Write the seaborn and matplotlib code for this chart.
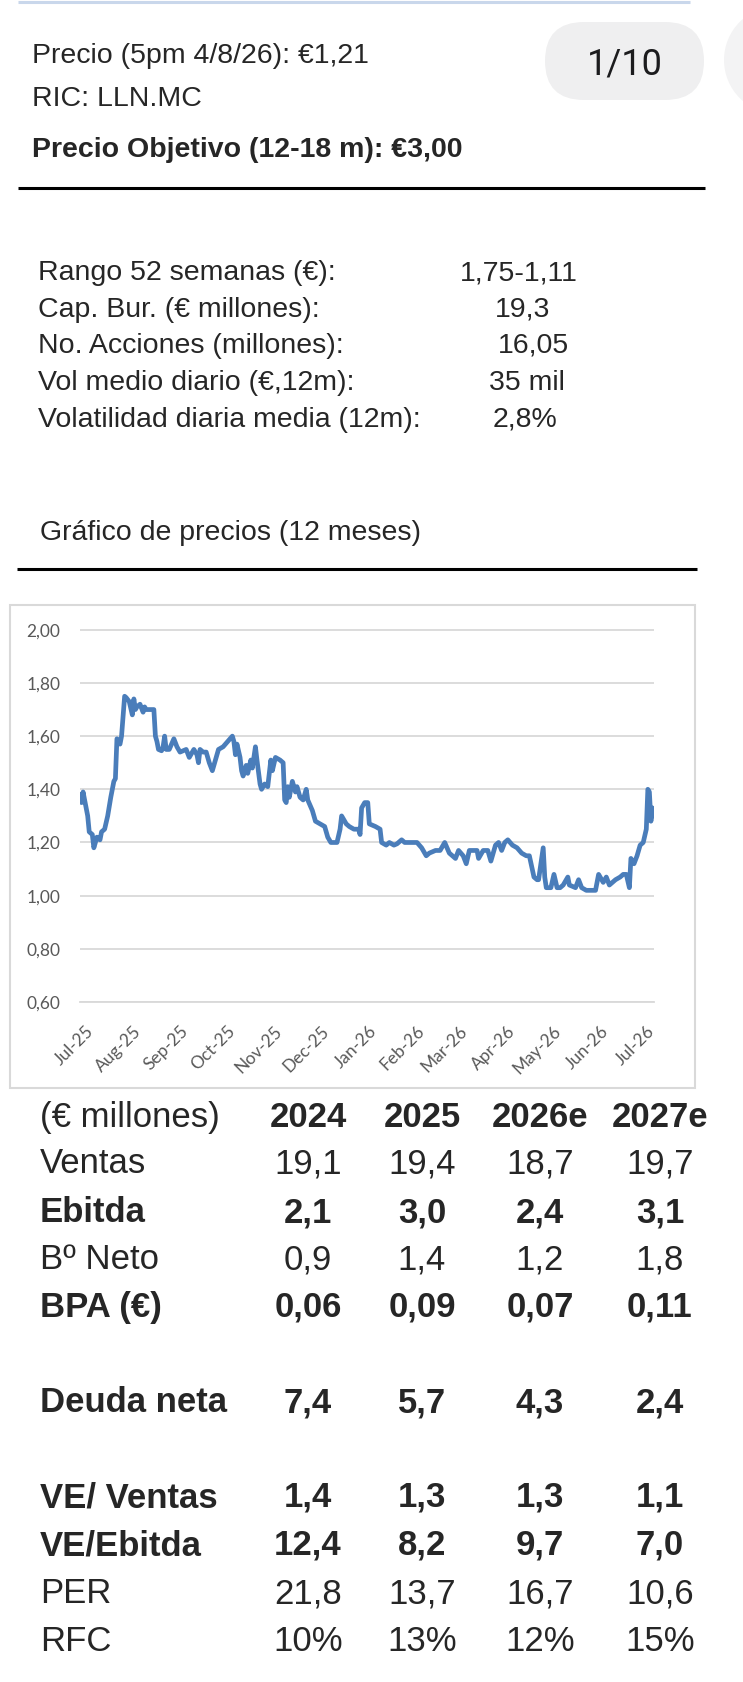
import pandas as pd
import seaborn as sns
import matplotlib.pyplot as plt
import matplotlib.dates as mdates
import matplotlib.transforms as mtransforms
from matplotlib.patches import FancyBboxPatch, Circle, Rectangle
from matplotlib.lines import Line2D
from matplotlib.ticker import FixedLocator, FuncFormatter

# --- data ---
header_lines = ["Precio (5pm 4/8/26): €1,21", "RIC: LLN.MC", "Precio Objetivo (12-18 m): €3,00"]
page_label = "1/10"

stat_labels = ["Rango 52 semanas (€):", "Cap. Bur. (€ millones):", "No. Acciones (millones):",
               "Vol medio diario (€,12m):", "Volatilidad diaria media (12m):"]
stat_values = ["1,75-1,11", "19,3", "16,05", "35 mil", "2,8%"]

chart_title = "Gráfico de precios (12 meses)"

start_date = "2025-07-28"
days = [0, 1, 2, 3, 5, 6, 8, 9, 11, 13, 14, 16, 18, 20, 22, 23, 24, 25, 26, 27,
        29, 30, 32, 34, 35, 36, 37, 39, 41, 42, 43, 46, 48, 49, 50, 51, 53, 54, 55, 56,
        58, 61, 63, 65, 69, 71, 74, 76, 77, 78, 80, 82, 84, 86, 88, 90, 93, 96, 99, 100,
        101, 102, 104, 105, 106, 108, 109, 111, 112, 114, 115, 117, 118, 120, 122, 124, 125, 127, 130, 132,
        133, 134, 135, 136, 138, 140, 141, 143, 145, 147, 148, 151, 153, 156, 159, 161, 163, 167, 169, 170,
        173, 175, 178, 181, 182, 183, 185, 187, 188, 192, 195, 196, 199, 201, 204, 206, 209, 211, 214, 219,
        222, 225, 227, 231, 234, 237, 240, 244, 246, 249, 251, 253, 258, 259, 262, 265, 267, 270, 272, 274,
        276, 278, 281, 284, 287, 290, 292, 295, 297, 298, 301, 302, 303, 306, 308, 310, 312, 314, 317, 318,
        322, 324, 326, 329, 332, 335, 337, 340, 342, 344, 348, 351, 353, 355, 357, 358, 360, 362, 364, 366,
        368, 369, 370, 371, 372, 373]
price = [1.38, 1.35, 1.39, 1.36, 1.30, 1.24, 1.23, 1.18, 1.22, 1.21, 1.24, 1.25, 1.30, 1.37, 1.43, 1.44, 1.59, 1.58, 1.57, 1.60,
         1.75, 1.745, 1.73, 1.68, 1.74, 1.70, 1.71, 1.72, 1.69, 1.71, 1.70, 1.70, 1.70, 1.60, 1.58, 1.55, 1.545, 1.56, 1.60, 1.55,
         1.55, 1.59, 1.56, 1.54, 1.55, 1.52, 1.55, 1.53, 1.50, 1.55, 1.54, 1.54, 1.50, 1.47, 1.51, 1.55, 1.56, 1.58, 1.60, 1.58,
         1.53, 1.57, 1.52, 1.47, 1.45, 1.49, 1.46, 1.51, 1.48, 1.56, 1.51, 1.42, 1.40, 1.42, 1.41, 1.51, 1.47, 1.52, 1.51, 1.50,
         1.36, 1.35, 1.41, 1.37, 1.43, 1.39, 1.41, 1.37, 1.36, 1.40, 1.36, 1.32, 1.28, 1.27, 1.26, 1.22, 1.20, 1.20, 1.25, 1.30,
         1.27, 1.26, 1.25, 1.25, 1.23, 1.33, 1.35, 1.35, 1.27, 1.26, 1.25, 1.20, 1.19, 1.20, 1.19, 1.195, 1.21, 1.20, 1.20, 1.20,
         1.18, 1.15, 1.16, 1.17, 1.17, 1.20, 1.16, 1.14, 1.17, 1.15, 1.12, 1.17, 1.17, 1.14, 1.17, 1.17, 1.13, 1.19, 1.20, 1.17,
         1.20, 1.21, 1.19, 1.18, 1.16, 1.15, 1.15, 1.07, 1.06, 1.06, 1.18, 1.07, 1.03, 1.03, 1.08, 1.03, 1.03, 1.04, 1.07, 1.04,
         1.03, 1.06, 1.03, 1.02, 1.02, 1.02, 1.08, 1.05, 1.07, 1.04, 1.06, 1.07, 1.08, 1.08, 1.03, 1.14, 1.12, 1.15, 1.19, 1.20,
         1.25, 1.40, 1.39, 1.28, 1.33, 1.30]
y_ticks = [0.6, 0.8, 1.0, 1.2, 1.4, 1.6, 1.8, 2.0]

table_unit = "(€ millones)"
years = ["2024", "2025", "2026e", "2027e"]
row_labels = ["Ventas", "Ebitda", "Bº Neto", "BPA (€)", "Deuda neta", "VE/ Ventas", "VE/Ebitda", "PER", "RFC"]
ventas = [19.1, 19.4, 18.7, 19.7]
ebitda = [2.1, 3.0, 2.4, 3.1]
bo_neto = [0.9, 1.4, 1.2, 1.8]
bpa = [0.06, 0.09, 0.07, 0.11]
deuda_neta = [7.4, 5.7, 4.3, 2.4]
ve_ventas = [1.4, 1.3, 1.3, 1.1]
ve_ebitda = [12.4, 8.2, 9.7, 7.0]
per = [21.8, 13.7, 16.7, 10.6]
rfc = [10, 13, 12, 15]

df = pd.DataFrame({"fecha": pd.Timestamp(start_date) + pd.to_timedelta(days, unit="D"),
                   "precio": price})

# --- figure in pixel units ---
W, H = 743, 1682
sns.set_theme(style="white")
plt.rcParams["font.family"] = ["Liberation Sans", "DejaVu Sans"]

fig = plt.figure(figsize=(W / 100, H / 100), dpi=100)
inch = fig.dpi_scale_trans


def px(x, y):
    return x / 100, (H - y) / 100


def put_text(x, y, s, **kw):
    fig.text(*px(x, y), s, transform=inch, **kw)


def hline(x0, x1, y, lw, color):
    a, b = px(x0, y)
    c, _ = px(x1, y)
    fig.add_artist(Line2D([a, c], [b, b], transform=inch, lw=lw, color=color,
                          solid_capstyle="butt"))


# top strip, pill and partial circle
hline(18, 690, 1.5, 2.2, "#c9d7eb")
fig.add_artist(FancyBboxPatch(px(545, 100), 1.59, 0.78, boxstyle="round,pad=0,rounding_size=0.39",
                              transform=inch, fc="#efeff0", ec="none"))
fig.add_artist(Circle(px(778, 60), 0.54, transform=inch, fc="#f3f3f4", ec="none"))
put_text(625, 74, page_label, fontsize=26, color="#1c1c1e", ha="center", va="baseline",
         family=["Roboto", "DejaVu Sans"])

# header block
put_text(32, 63, header_lines[0], fontsize=20.5, va="baseline")
put_text(32, 106, header_lines[1], fontsize=20.5, va="baseline")
put_text(32, 157, header_lines[2], fontsize=20.5, va="baseline", weight="bold")
hline(18, 705, 188, 2.2, "black")

# key stats
stat_base = [280, 317, 353, 390, 427]
stat_x = [460, 495, 498, 489, 493]
for lab, val, yb, xv in zip(stat_labels, stat_values, stat_base, stat_x):
    put_text(38, yb, lab, fontsize=20.5, va="baseline")
    put_text(xv, yb, val, fontsize=20.5, va="baseline")

put_text(40, 540, chart_title, fontsize=20.5, va="baseline")
hline(17, 697, 569, 2.2, "black")

# chart frame
fig.add_artist(Rectangle(px(10, 1088), 6.85, 4.83, transform=inch, fc="white",
                         ec="#d9d9d9", lw=1.5, zorder=0))

ax = fig.add_axes([80 / W, 1 - 1002 / H, 574 / W, 373 / H])
sns.lineplot(data=df, x="fecha", y="precio", ax=ax, color="#4a7dba", lw=3.4,
             estimator=None, solid_joinstyle="round")
ax.set_xlim(df["fecha"].iloc[0], df["fecha"].iloc[-1])
ax.set_ylim(0.6, 2.003)
ax.set_xlabel("")
ax.set_ylabel("")
ax.patch.set_alpha(0)
ax.yaxis.set_major_locator(FixedLocator(y_ticks))
ax.yaxis.set_major_formatter(FuncFormatter(lambda v, p: f"{v:.2f}".replace(".", ",")))
ax.xaxis.set_major_locator(mdates.MonthLocator(bymonthday=28))
ax.xaxis.set_major_formatter(mdates.DateFormatter("%b-%y"))
ax.yaxis.grid(True, color="#d9d9d9", lw=1.3)
ax.set_axisbelow(True)
for s in ["top", "right", "left"]:
    ax.spines[s].set_visible(False)
ax.spines["bottom"].set_color("#d9d9d9")
ax.spines["bottom"].set_linewidth(1.3)
ax.tick_params(axis="y", length=0, pad=14, labelsize=12.5, labelcolor="#595959")
ax.tick_params(axis="x", length=4, width=1.3, color="#d9d9d9", pad=11, labelsize=12.5,
               labelcolor="#595959")
shift = mtransforms.ScaledTranslation(5 / 100, 0, inch)
for lab in ax.get_yticklabels():
    lab.set_family(["Lato", "DejaVu Sans"])
for lab in ax.get_xticklabels():
    lab.set_family(["Lato", "DejaVu Sans"])
    lab.set_rotation(45)
    lab.set_ha("right")
    lab.set_va("top")
    lab.set_rotation_mode("anchor")
    lab.set_transform(lab.get_transform() + shift)

# financial table
col_x = [308, 422, 540, 660]
put_text(40, 1127, table_unit, fontsize=25, va="baseline")
for cx, yr in zip(col_x, years):
    put_text(cx, 1127, yr, fontsize=25, va="baseline", ha="center", weight="bold")


def f1(v):
    return f"{v:.1f}".replace(".", ",")


def f2(v):
    return f"{v:.2f}".replace(".", ",")


rows = [
    [f1(v) for v in ventas],
    [f1(v) for v in ebitda],
    [f1(v) for v in bo_neto],
    [f2(v) for v in bpa],
    [f1(v) for v in deuda_neta],
    [f1(v) for v in ve_ventas],
    [f1(v) for v in ve_ebitda],
    [f1(v) for v in per],
    [f"{v}%" for v in rfc],
]
row_base = [1173, 1222, 1269, 1317, 1412, 1507, 1555, 1603, 1651]
row_bold = [False, True, False, True, True, True, True, False, False]
for lab, vals, yb, b in zip(row_labels, rows, row_base, row_bold):
    w = "bold" if b else "normal"
    put_text(40, yb, lab, fontsize=25, va="baseline", weight=w)
    for cx, v in zip(col_x, vals):
        put_text(cx, yb, v, fontsize=25, va="baseline", ha="center", weight=w)

fig.savefig("out.png", dpi=100, facecolor="white")
